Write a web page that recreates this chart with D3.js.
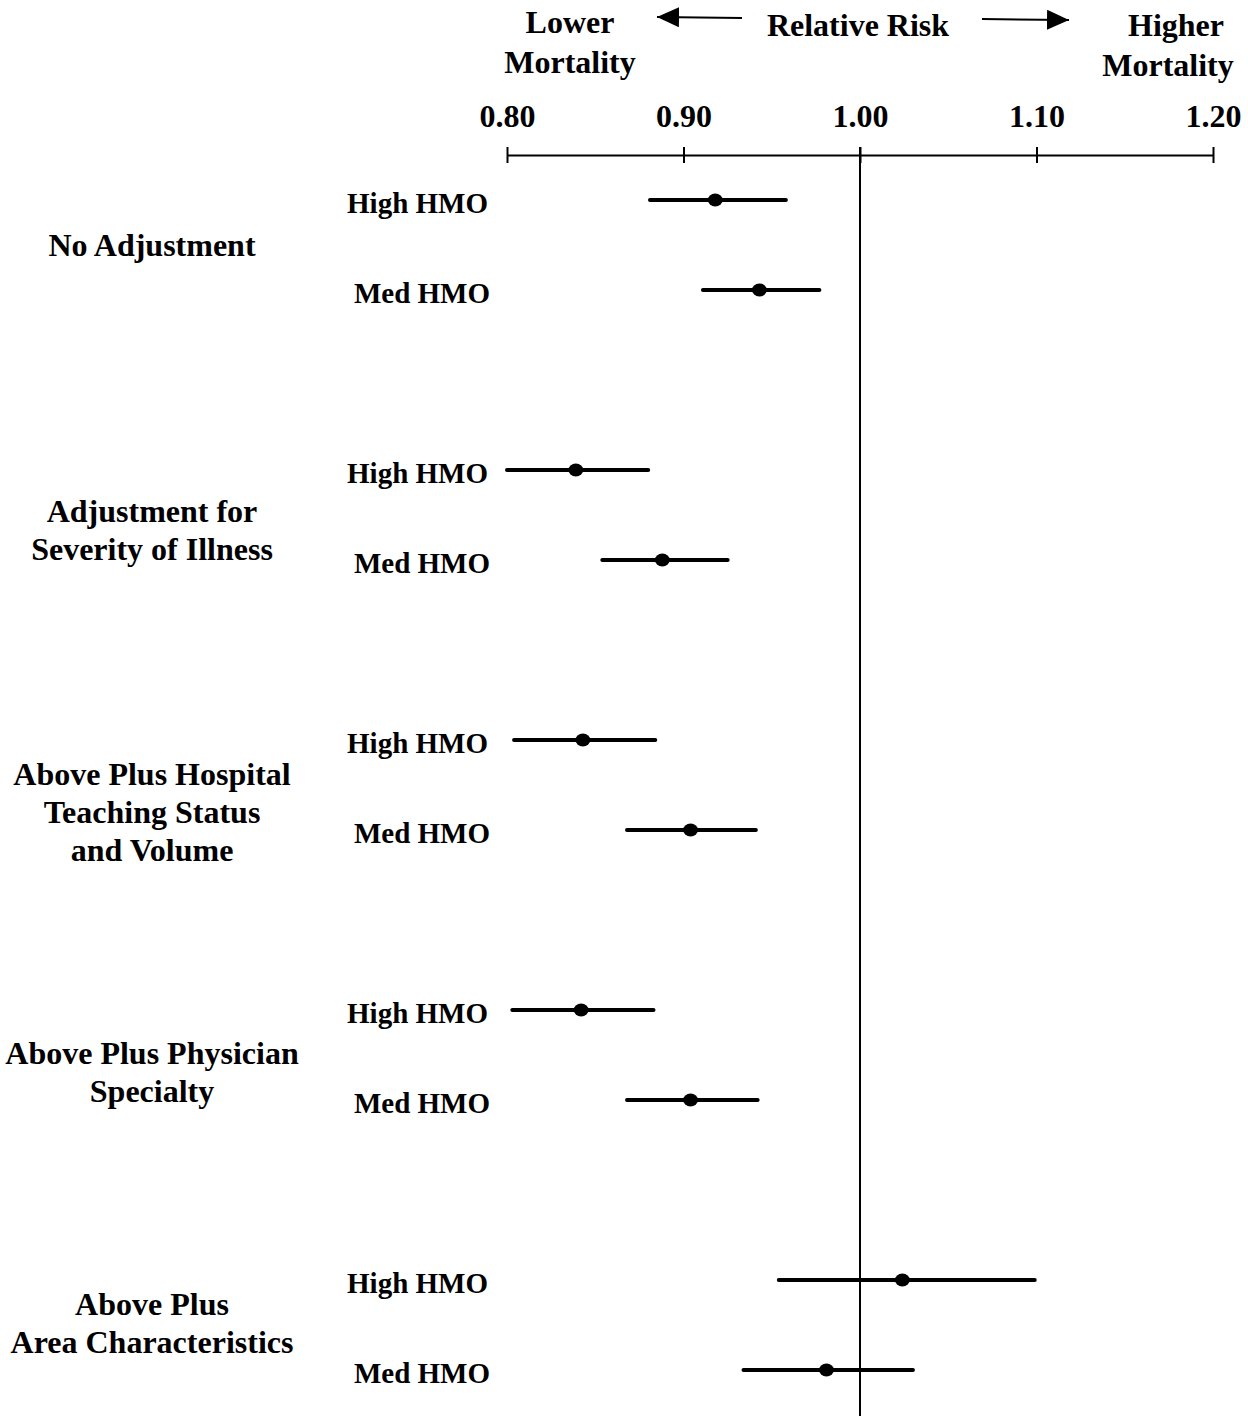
<!DOCTYPE html>
<html>
<head>
<meta charset="utf-8">
<script src="https://cdn.jsdelivr.net/npm/d3@7"></script>
<style>
  body { margin: 0; background: #fff; }
  svg text { font-family: "Liberation Serif", "Times New Roman", serif; font-weight: bold; fill: #000; }
</style>
</head>
<body>
<div id="main"></div>
<script>
// relative risk estimates with 95% CI
var groups = [
    ['No Adjustment'],
    ['Adjustment for', 'Severity of Illness'],
    ['Above Plus Hospital', 'Teaching Status', 'and Volume'],
    ['Above Plus Physician', 'Specialty'],
    ['Above Plus', 'Area Characteristics']
];
var seriesNames = ['High HMO', 'Med HMO'];
var highEst = [0.918, 0.839, 0.843, 0.842, 1.024];
var highLo  = [0.881, 0.800, 0.804, 0.803, 0.954];
var highHi  = [0.958, 0.880, 0.884, 0.883, 1.099];
var medEst  = [0.943, 0.888, 0.904, 0.904, 0.981];
var medLo   = [0.911, 0.854, 0.868, 0.868, 0.934];
var medHi   = [0.977, 0.925, 0.941, 0.942, 1.030];
var tickValues = [0.80, 0.90, 1.00, 1.10, 1.20];

var width = 1248, height = 1416;
var labelShift = [0, 15, 27, 17, -2];   // nudges of group label blocks
var lineHeight = 38;
var bigFont = '32px';

var svg = d3.select('#main').append('svg')
    .attr('width', width)
    .attr('height', height);

var x = d3.scaleLinear()
    .domain([0.80, 1.20])
    .range([507, 1213]);

var groupY = d3.scalePoint()
    .domain(d3.range(groups.length))
    .range([200, 1280]);

var rowY = d3.scalePoint()
    .domain(seriesNames)
    .range([0, 90]);

var axisY = 155;

// header
var header = svg.append('g').attr('class', 'header');
header.append('text').attr('x', 570).attr('y', 33).attr('text-anchor', 'middle')
    .style('font-size', bigFont).text('Lower');
header.append('text').attr('x', 570).attr('y', 73).attr('text-anchor', 'middle')
    .style('font-size', bigFont).text('Mortality');
header.append('text').attr('x', 858).attr('y', 36).attr('text-anchor', 'middle')
    .style('font-size', bigFont).text('Relative Risk');
header.append('text').attr('x', 1176).attr('y', 36).attr('text-anchor', 'middle')
    .style('font-size', bigFont).text('Higher');
header.append('text').attr('x', 1168).attr('y', 76).attr('text-anchor', 'middle')
    .style('font-size', bigFont).text('Mortality');

svg.append('defs').append('marker')
    .attr('id', 'arrow')
    .attr('viewBox', '0 0 22 20')
    .attr('refX', 22).attr('refY', 10)
    .attr('markerWidth', 22).attr('markerHeight', 20)
    .attr('markerUnits', 'userSpaceOnUse')
    .attr('orient', 'auto')
    .append('path')
    .attr('d', 'M0,0 L22,10 L0,20 Z')
    .attr('fill', '#000');

header.append('line')
    .attr('x1', 742).attr('y1', 18).attr('x2', 657).attr('y2', 17)
    .attr('stroke', '#000').attr('stroke-width', 2)
    .attr('marker-end', 'url(#arrow)');
header.append('line')
    .attr('x1', 982).attr('y1', 19).attr('x2', 1069).attr('y2', 20)
    .attr('stroke', '#000').attr('stroke-width', 2)
    .attr('marker-end', 'url(#arrow)');

// axis on top
var xAxis = svg.append('g')
    .attr('class', 'x-axis')
    .attr('transform', 'translate(0,' + axisY + ')')
    .call(d3.axisTop(x)
        .tickValues(tickValues)
        .tickFormat(d3.format('.2f'))
        .tickSizeInner(8)
        .tickSizeOuter(0)
        .tickPadding(20));

xAxis.select('.domain').attr('stroke', '#000').attr('stroke-width', 2);
xAxis.selectAll('.tick line')
    .attr('y1', 8)
    .attr('stroke', '#000')
    .attr('stroke-width', 2);
xAxis.selectAll('.tick text')
    .style('font-size', bigFont)
    .style('font-family', '"Liberation Serif", "Times New Roman", serif')
    .style('font-weight', 'bold')
    .attr('fill', '#000');

// reference line at 1.00
svg.append('line')
    .attr('x1', x(1)).attr('x2', x(1))
    .attr('y1', axisY - 8).attr('y2', height)
    .attr('stroke', '#000')
    .attr('stroke-width', 2);

// group labels
groups.forEach(function(lines, i){
    var mid = groupY(i) + 45 + labelShift[i];
    var top = mid - (lines.length - 1) * lineHeight / 2;
    svg.append('text')
        .attr('text-anchor', 'middle')
        .style('font-size', bigFont)
        .selectAll('tspan')
        .data(lines)
        .enter()
        .append('tspan')
        .attr('x', 152)
        .attr('y', (d, j) => top + j * lineHeight + 11)
        .text(d => d);
});

// rows
var rows = [];
groups.forEach(function(g, i){
    rows.push({group: i, series: 'High HMO', est: highEst[i], lo: highLo[i], hi: highHi[i]});
    rows.push({group: i, series: 'Med HMO', est: medEst[i], lo: medLo[i], hi: medHi[i]});
});
var yPos = d => groupY(d.group) + rowY(d.series);

svg.selectAll('.row-label')
    .data(rows)
    .enter()
    .append('text')
    .attr('class', 'row-label')
    .attr('x', d => d.series === 'High HMO' ? 488 : 490)
    .attr('y', d => yPos(d) + 13)
    .attr('text-anchor', 'end')
    .style('font-size', '29px')
    .text(d => d.series);

svg.selectAll('.ci')
    .data(rows)
    .enter()
    .append('line')
    .attr('class', 'ci')
    .attr('x1', d => x(d.lo))
    .attr('x2', d => x(d.hi))
    .attr('y1', yPos)
    .attr('y2', yPos)
    .attr('stroke', '#000')
    .attr('stroke-width', 4)
    .attr('stroke-linecap', 'round');

svg.selectAll('.est')
    .data(rows)
    .enter()
    .append('ellipse')
    .attr('class', 'est')
    .attr('cx', d => x(d.est))
    .attr('cy', yPos)
    .attr('rx', 7.5)
    .attr('ry', 6.5)
    .attr('fill', '#000');
</script>
</body>
</html>
